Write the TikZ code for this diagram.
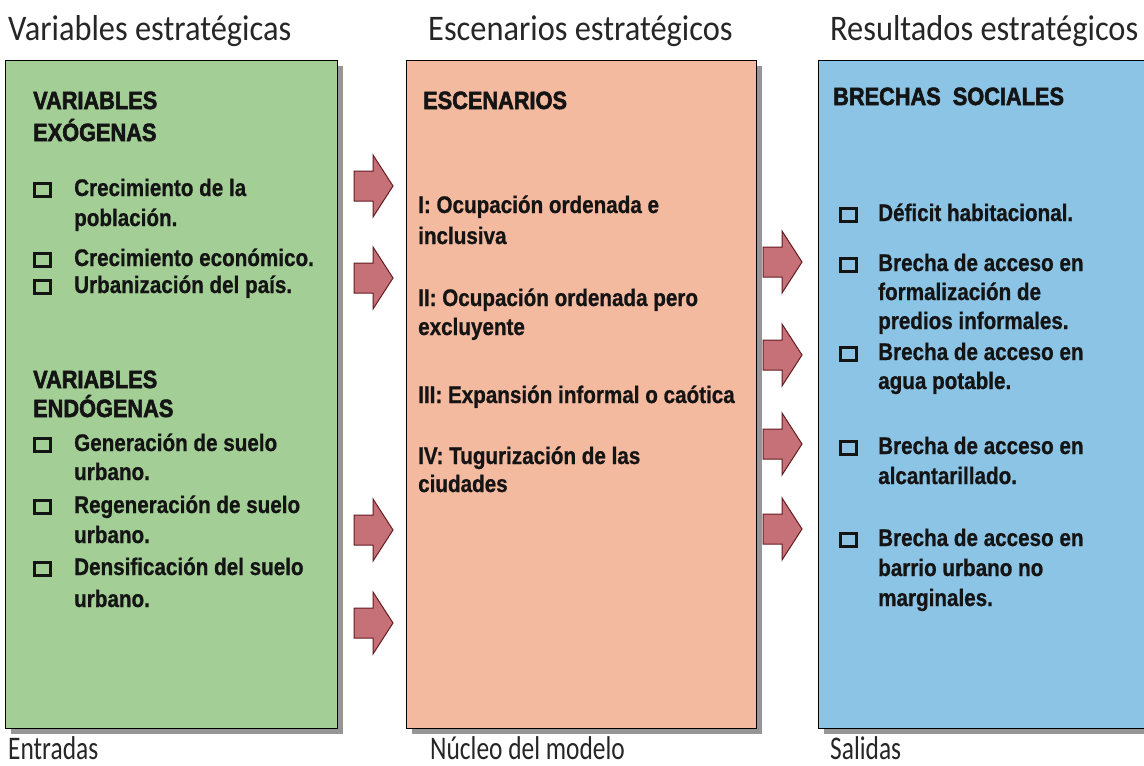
\documentclass[tikz,border=0pt]{standalone}
\usepackage{fontspec}
\setmainfont{Liberation Sans}
\newfontfamily\bodyf[FakeStretch=0.86,FakeBold=0.8]{Liberation Sans}
\newfontfamily\headf[FakeStretch=0.87,FakeBold=2.2]{Liberation Sans}
\newfontfamily\capf[FakeStretch=0.9]{Carlito}
\newfontfamily\footf[FakeStretch=0.77]{Carlito}
\usetikzlibrary{shadows}
\definecolor{greenfill}{RGB}{163,207,151}
\definecolor{salmonfill}{RGB}{244,186,160}
\definecolor{bluefill}{RGB}{140,196,230}
\definecolor{arrowfill}{RGB}{198,112,120}
\definecolor{arrowline}{RGB}{100,28,32}
\definecolor{inktext}{RGB}{20,20,20}
\begin{document}
\begin{tikzpicture}[x=1pt,y=-1pt,
  panel/.style={draw=black, line width=1.4pt, anchor=north west, inner sep=0pt,
    minimum height=668pt,
    drop shadow={shadow xshift=5pt, shadow yshift=-5pt, opacity=0.55, fill=black!75}},
  body/.style={anchor=base west, inner sep=0pt, text=inktext,
    font=\bodyf\bfseries\fontsize{24}{28}\selectfont},
  head/.style={anchor=base west, inner sep=0pt, text=inktext,
    font=\headf\bfseries\fontsize{25}{29}\selectfont},
  caption/.style={anchor=base west, inner sep=0pt, text=black!85,
    font=\capf\fontsize{36}{42}\selectfont},
  footer/.style={anchor=base west, inner sep=0pt, text=black!85,
    font=\footf\fontsize{33}{38}\selectfont},
  chk/.style={draw=inktext, line width=3pt, minimum width=16pt, minimum height=13pt, inner sep=0pt},
  arrowbody/.style={fill=arrowfill, draw=arrowline, line width=1pt, line join=miter},
  blockarrow/.pic={\path[arrowbody] (0,-15) -- (19,-15) -- (19,-31) -- (39,0) -- (19,31) -- (19,15) -- (0,15) -- cycle;}
]
\useasboundingbox (0,0) rectangle (1144,766);
\clip (0,0) rectangle (1144,766);
\fill[white] (0,0) rectangle (1144,766);

% panels
\node[panel, fill=greenfill, minimum width=332pt] (inputs) at (5,60) {};
\node[panel, fill=salmonfill, minimum width=350pt] (core) at (406,60) {};
\node[panel, fill=bluefill, minimum width=345pt] (outputs) at (818,60) {};

% captions
\node[caption] (cap1) at (8,40) {Variables estratégicas};
\node[caption] (cap2) at (428,40) {Escenarios estratégicos};
\node[caption] (cap3) at (830,40) {Resultados estratégicos};
\node[footer] (foot1) at (8,759) {Entradas};
\node[footer] (foot2) at (430,759) {Núcleo del modelo};
\node[footer] (foot3) at (830,759) {Salidas};

% green panel
\node[head] (g1) at (33,109) {VARIABLES};
\node[head] (g2) at (33,141) {EXÓGENAS};
\node[chk] (gb1) at (42,190) {};
\node[body] (g3) at (74,196) {Crecimiento de la};
\node[body] (g4) at (74,226) {población.};
\node[chk] (gb2) at (42,260) {};
\node[body] (g5) at (74,266) {Crecimiento económico.};
\node[chk] (gb3) at (42,287) {};
\node[body] (g6) at (74,293) {Urbanización del país.};
\node[head] (g7) at (33,388) {VARIABLES};
\node[head] (g8) at (33,417) {ENDÓGENAS};
\node[chk] (gb4) at (42,445) {};
\node[body] (g9) at (74,451) {Generación de suelo};
\node[body] (g10) at (74,480) {urbano.};
\node[chk] (gb5) at (42,507) {};
\node[body] (g11) at (74,513) {Regeneración de suelo};
\node[body] (g12) at (74,543) {urbano.};
\node[chk] (gb6) at (42,569) {};
\node[body] (g13) at (74,575) {Densificación del suelo};
\node[body] (g14) at (74,607) {urbano.};

% salmon panel
\node[head] (s1) at (423,109) {ESCENARIOS};
\node[body] (s2) at (418,213) {I: Ocupación ordenada e};
\node[body] (s3) at (418,244) {inclusiva};
\node[body] (s4) at (418,306) {II: Ocupación ordenada pero};
\node[body] (s5) at (418,335) {excluyente};
\node[body] (s6) at (418,403) {III: Expansión informal o caótica};
\node[body] (s7) at (418,464) {IV: Tugurización de las};
\node[body] (s8) at (418,492) {ciudades};

% blue panel
\node[head] (b1) at (833,105) {BRECHAS \ SOCIALES};
\node[chk] (bb1) at (848,215) {};
\node[body] (b2) at (878,221) {Déficit habitacional.};
\node[chk] (bb2) at (848,265) {};
\node[body] (b3) at (878,271) {Brecha de acceso en};
\node[body] (b4) at (878,300) {formalización de};
\node[body] (b5) at (878,329) {predios informales.};
\node[chk] (bb3) at (848,354) {};
\node[body] (b6) at (878,360) {Brecha de acceso en};
\node[body] (b7) at (878,389) {agua potable.};
\node[chk] (bb4) at (848,448) {};
\node[body] (b8) at (878,454) {Brecha de acceso en};
\node[body] (b9) at (878,484) {alcantarillado.};
\node[chk] (bb5) at (848,540) {};
\node[body] (b10) at (878,546) {Brecha de acceso en};
\node[body] (b11) at (878,576) {barrio urbano no};
\node[body] (b12) at (878,606) {marginales.};

% block arrows
\pic at (354,186) {blockarrow};
\pic at (354,278) {blockarrow};
\pic at (354,530) {blockarrow};
\pic at (354,623) {blockarrow};
\pic at (763,262) {blockarrow};
\pic at (763,355) {blockarrow};
\pic at (763,444) {blockarrow};
\pic at (763,529) {blockarrow};
\end{tikzpicture}
\end{document}
